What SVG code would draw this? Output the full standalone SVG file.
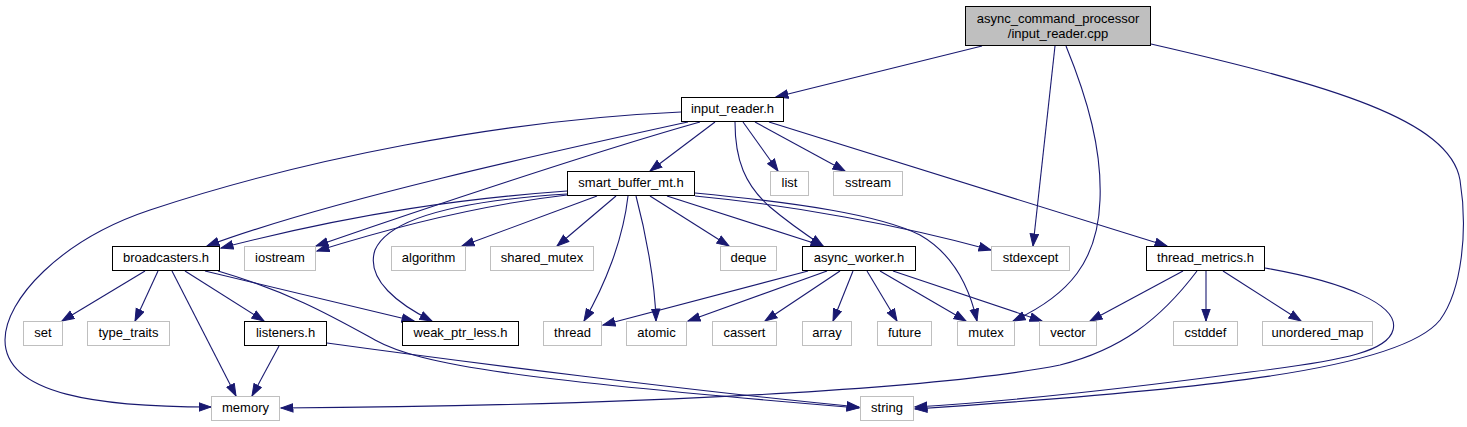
<svg xmlns="http://www.w3.org/2000/svg" width="1467" height="427" viewBox="0 0 1467 427">
<style>
.b{fill:#fff;stroke:#000;stroke-width:1}
.g{fill:#fff;stroke:#bfbfbf;stroke-width:1}
.r{fill:#bfbfbf;stroke:#000;stroke-width:1}
text{font-family:"Liberation Sans",Arial,sans-serif;font-size:13px;fill:#000;text-anchor:middle}
.e path{fill:none;stroke:#191970;stroke-width:1.1;marker-end:url(#a)}
</style>
<defs>
<marker id="a" markerWidth="14" markerHeight="11" refX="12.5" refY="5" orient="auto" markerUnits="userSpaceOnUse"><path d="M0.5,0.8 L12.5,5 L0.5,9.2 z" fill="#191970" stroke="#191970" stroke-width="1"/></marker>
</defs>
<rect width="1467" height="427" fill="#fff"/>
<g id="connectors" class="e">
<path d="M982,46 L776,97"/>
<path d="M1055,46 L1033,246"/>
<path d="M1066,46 C1088,100 1102,150 1100,200 C1098,260 1070,295 1013,321"/>
<path d="M1151,44 C1330,85 1450,120 1460,180 C1468,230 1462,290 1440,320 C1400,370 1200,390 915,409"/>
<path d="M715,122 L650,171"/>
<path d="M743,122 L778,171"/>
<path d="M755,122 L845,171"/>
<path d="M769,122 L1167,246"/>
<path d="M735,122 C735,160 745,185 770,207 C790,224 808,236 823,246"/>
<path d="M681,112 C500,120 300,160 150,210 C60,240 5,300 5,340 C5,395 100,407 211,407"/>
<path d="M688,122 C560,150 330,200 207,246"/>
<path d="M700,122 C600,150 420,210 316,246"/>
<path d="M567,195 C480,205 400,225 317,251"/>
<path d="M567,191 C470,198 360,212 221,248"/>
<path d="M567,194 C470,200 390,215 375,250 C365,280 400,305 432,321"/>
<path d="M597,196 L462,246"/>
<path d="M616,196 L557,246"/>
<path d="M628,196 C623,240 605,285 584,321"/>
<path d="M636,196 C645,230 655,280 656,321"/>
<path d="M650,196 L729,246"/>
<path d="M667,196 L823,246"/>
<path d="M695,196 C790,205 900,225 991,250"/>
<path d="M695,193 C800,203 880,215 920,235 C955,255 970,290 977,321"/>
<path d="M145,271 L62,321"/>
<path d="M158,271 L135,321"/>
<path d="M172,271 L236,396"/>
<path d="M185,271 L264,321"/>
<path d="M205,271 L414,321"/>
<path d="M218,271 C290,292 335,318 375,340 C420,365 520,380 859,408"/>
<path d="M327,343 C450,360 700,392 859,407"/>
<path d="M279,346 L252,396"/>
<path d="M808,271 L603,325"/>
<path d="M827,271 L688,321"/>
<path d="M840,271 L765,321"/>
<path d="M853,271 L833,321"/>
<path d="M867,271 L897,321"/>
<path d="M880,271 L966,321"/>
<path d="M893,271 L1042,321"/>
<path d="M1183,271 L1090,321"/>
<path d="M1206,271 L1206,321"/>
<path d="M1223,271 L1301,321"/>
<path d="M1197,271 C1160,320 1120,350 1060,365 C960,385 700,405 281,408"/>
<path d="M1265,268 C1345,282 1400,305 1393,330 C1388,350 1350,360 1250,372 C1100,392 1000,402 915,407"/>
</g>
<g id="root"><rect class="r" x="965.5" y="6.5" width="185" height="39"/><text x="1058" y="23">async_command_processor</text><text x="1058" y="38">/input_reader.cpp</text></g>
<g id="input_reader_h"><rect class="b" x="681.5" y="97.5" width="102" height="24"/><text x="732.5" y="113">input_reader.h</text></g>
<g id="smart_buffer_mt_h"><rect class="b" x="567.5" y="171.5" width="127" height="24"/><text x="631" y="187">smart_buffer_mt.h</text></g>
<g id="list"><rect class="g" x="770.5" y="171.5" width="38" height="24"/><text x="789.5" y="187">list</text></g>
<g id="sstream"><rect class="g" x="833.5" y="171.5" width="69" height="24"/><text x="868" y="187">sstream</text></g>
<g id="broadcasters_h"><rect class="b" x="112.5" y="246.5" width="107" height="24"/><text x="166" y="262">broadcasters.h</text></g>
<g id="iostream"><rect class="g" x="244.5" y="246.5" width="71" height="24"/><text x="280" y="262">iostream</text></g>
<g id="algorithm"><rect class="g" x="391.5" y="246.5" width="74" height="24"/><text x="428.5" y="262">algorithm</text></g>
<g id="shared_mutex"><rect class="g" x="490.5" y="246.5" width="103" height="24"/><text x="542" y="262">shared_mutex</text></g>
<g id="deque"><rect class="g" x="720.5" y="246.5" width="56" height="24"/><text x="748.5" y="262">deque</text></g>
<g id="async_worker_h"><rect class="b" x="802.5" y="246.5" width="113" height="24"/><text x="859" y="262">async_worker.h</text></g>
<g id="stdexcept"><rect class="g" x="991.5" y="246.5" width="78" height="24"/><text x="1030.5" y="262">stdexcept</text></g>
<g id="thread_metrics_h"><rect class="b" x="1146.5" y="246.5" width="118" height="24"/><text x="1205.5" y="262">thread_metrics.h</text></g>
<g id="set"><rect class="g" x="23.5" y="321.5" width="39" height="24"/><text x="43" y="337">set</text></g>
<g id="type_traits"><rect class="g" x="87.5" y="321.5" width="82" height="24"/><text x="128.5" y="337">type_traits</text></g>
<g id="listeners_h"><rect class="b" x="244.5" y="321.5" width="82" height="24"/><text x="285.5" y="337">listeners.h</text></g>
<g id="weak_ptr_less_h"><rect class="b" x="402.5" y="321.5" width="116" height="24"/><text x="460.5" y="337">weak_ptr_less.h</text></g>
<g id="thread"><rect class="g" x="543.5" y="321.5" width="58" height="24"/><text x="572.5" y="337">thread</text></g>
<g id="atomic"><rect class="g" x="626.5" y="321.5" width="60" height="24"/><text x="656.5" y="337">atomic</text></g>
<g id="cassert"><rect class="g" x="712.5" y="321.5" width="64" height="24"/><text x="744.5" y="337">cassert</text></g>
<g id="array"><rect class="g" x="802.5" y="321.5" width="49" height="24"/><text x="827" y="337">array</text></g>
<g id="future"><rect class="g" x="877.5" y="321.5" width="54" height="24"/><text x="904.5" y="337">future</text></g>
<g id="mutex"><rect class="g" x="957.5" y="321.5" width="57" height="24"/><text x="986" y="337">mutex</text></g>
<g id="vector"><rect class="g" x="1039.5" y="321.5" width="57" height="24"/><text x="1068" y="337">vector</text></g>
<g id="cstddef"><rect class="g" x="1173.5" y="321.5" width="64" height="24"/><text x="1205.5" y="337">cstddef</text></g>
<g id="unordered_map"><rect class="g" x="1262.5" y="321.5" width="110" height="24"/><text x="1317.5" y="337">unordered_map</text></g>
<g id="memory"><rect class="g" x="211.5" y="396.5" width="68" height="24"/><text x="245.5" y="412">memory</text></g>
<g id="string"><rect class="g" x="860.5" y="396.5" width="53" height="24"/><text x="887" y="412">string</text></g>
</svg>
